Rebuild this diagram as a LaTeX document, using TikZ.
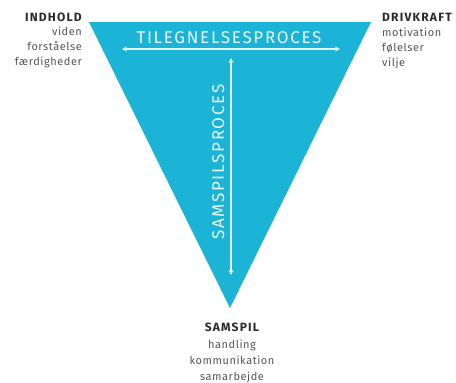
\documentclass[tikz,border=0pt]{standalone}
\usepackage{fontspec}
\setmainfont{Fira Sans}
\usetikzlibrary{arrows.meta}
\definecolor{tri}{HTML}{1BB4D6}
\definecolor{lbl}{HTML}{2A2A2A}
\definecolor{sub}{HTML}{555555}
\tikzset{
  head/.style={font=\fontsize{12}{14}\selectfont\bfseries\addfontfeatures{LetterSpace=10}, text=lbl, inner sep=0pt},
  item/.style={font=\fontsize{11}{13}\selectfont\addfontfeatures{LetterSpace=5}, text=sub, inner sep=0pt},
  proc/.style={font=\fontsize{17}{19}\selectfont\addfontfeatures{LetterSpace=10}, text=white!90!tri, inner sep=0pt},
  dbl/.style={draw=white!85!tri, line width=1.3pt, {Stealth[length=5pt,width=5pt]}-{Stealth[length=5pt,width=5pt]}}
}
\begin{document}
\begin{tikzpicture}[x=1pt,y=-1pt]
\useasboundingbox (0,0) rectangle (456,383);
\fill[tri] (89,22) coordinate (tl) -- (371,22) coordinate (tr) -- (230,308) coordinate (bt) -- cycle;
% horizontal arrow
\coordinate (hl) at (122,49);
\coordinate (hr) at (340,49);
\draw[dbl] (hl) -- (hr);
\node[proc, anchor=base] (tp) at (229,43) {TILEGNELSESPROCES};
% vertical arrow
\coordinate (vt) at (231,58);
\coordinate (vb) at (231,275);
\draw[dbl] (vt) -- (vb);
\node[proc, rotate=90, anchor=base] (sp) at (224,162) {SAMSPILSPROCES};
% left labels
\node[head, anchor=base east] (h1) at (82,21) {INDHOLD};
\node[item, anchor=base east] (a1) at (82,35) {viden};
\node[item, anchor=base east] (a2) at (82,50) {forståelse};
\node[item, anchor=base east] (a3) at (82,65) {færdigheder};
% right labels
\node[head, anchor=base west] (h2) at (382,21) {DRIVKRAFT};
\node[item, anchor=base west] (b1) at (382,36) {motivation};
\node[item, anchor=base west] (b2) at (382,51) {følelser};
\node[item, anchor=base west] (b3) at (382,66) {vilje};
% bottom labels
\node[head, anchor=base] (h3) at (232,331) {SAMSPIL};
\node[item, anchor=base] (c1) at (232,348) {handling};
\node[item, anchor=base] (c2) at (232,364) {kommunikation};
\node[item, anchor=base] (c3) at (232,380) {samarbejde};
\end{tikzpicture}
\end{document}
